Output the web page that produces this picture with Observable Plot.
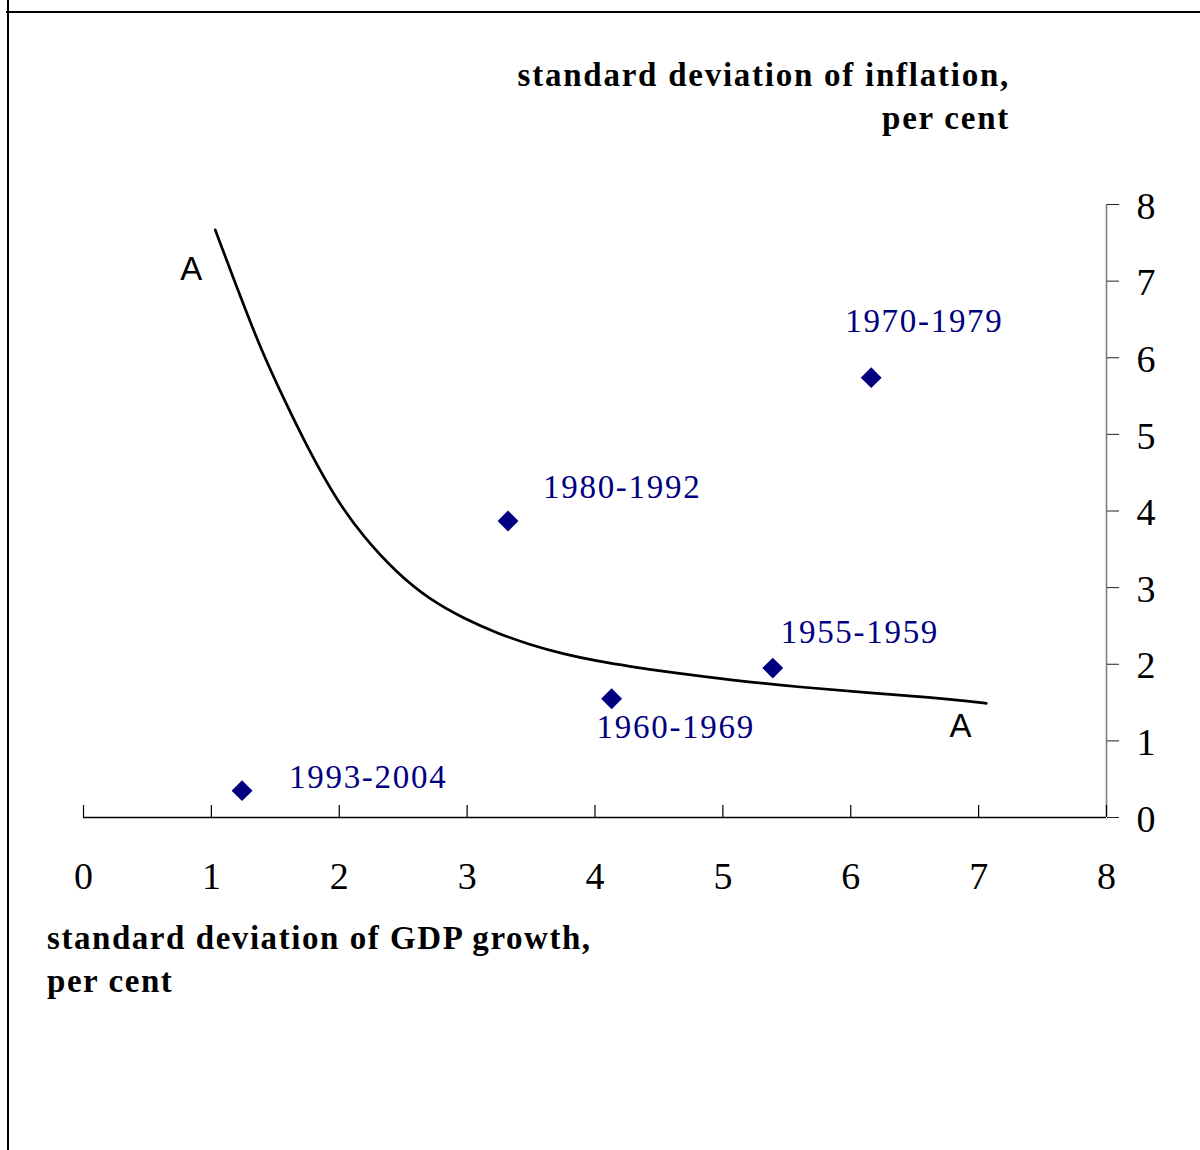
<!DOCTYPE html>
<html>
<head>
<meta charset="utf-8">
<script src="https://cdn.jsdelivr.net/npm/d3@7"></script>
<script src="https://cdn.jsdelivr.net/npm/@observablehq/plot@0.6"></script>
<style>
  html, body { margin: 0; padding: 0; background: #fff; overflow: hidden; }
  #wrap { position: relative; width: 1200px; height: 1150px; overflow: hidden; background: #fff; }
  #chart { position: absolute; left: 0; top: 0; }
  .frame-top { position: absolute; left: 6px; top: 11px; width: 1194px; height: 2px; background: #000; }
  .frame-left { position: absolute; left: 7px; top: 0; width: 2px; height: 1150px; background: #000; }
  .title { position: absolute; font-family: "Liberation Serif", "Times New Roman", serif; font-weight: bold;
           font-size: 33px; line-height: 43px; color: #000; white-space: nowrap; }
  #ytitle { right: 190px; top: 54px; text-align: right; letter-spacing: 1.75px; }
  #xtitle { left: 47px; top: 917px; text-align: left; letter-spacing: 1.55px; }
</style>
</head>
<body>
<div id="wrap">
  <div id="chart"></div>
  <div class="frame-top"></div>
  <div class="frame-left"></div>
  <div class="title" id="ytitle">standard deviation of inflation,<br>per cent</div>
  <div class="title" id="xtitle">standard deviation of GDP growth,<br>per cent</div>
</div>
<script>
// ---- data ----
const periods = ["1955-1959", "1960-1969", "1970-1979", "1980-1992", "1993-2004"];
const gdpSD   = [5.39, 4.13, 6.16, 3.32, 1.24];   // standard deviation of GDP growth, per cent
const inflSD  = [1.95, 1.55, 5.74, 3.87, 0.35];   // standard deviation of inflation, per cent

// curve A-A
const curveGdp  = [1.03, 1.235, 1.39, 1.57, 1.76, 1.98, 2.19, 2.45, 2.71, 2.97, 3.24, 3.50, 3.76, 4.02, 4.28, 4.56, 5.08, 5.61, 6.13, 6.65, 6.91, 7.06];
const curveInfl = [7.67, 6.76, 6.10, 5.45, 4.80, 4.14, 3.66, 3.19, 2.84, 2.60, 2.40, 2.25, 2.13, 2.04, 1.97, 1.90, 1.79, 1.70, 1.63, 1.565, 1.52, 1.49];
const curveLabel = "A";

const xTicks = [0, 1, 2, 3, 4, 5, 6, 7, 8];
const yTicks = [0, 1, 2, 3, 4, 5, 6, 7, 8];

// ---- build ----
const points = periods.map((p, i) => ({period: p, gdp: gdpSD[i], infl: inflSD[i]}));
const curve = curveGdp.map((g, i) => ({gdp: g, infl: curveInfl[i]}));

// label placement (pixel offsets from each point)
const labelOffset = {
  "1955-1959": [8, -36],
  "1960-1969": [-15, 29],
  "1970-1979": [-26, -56],
  "1980-1992": [35, -34],
  "1993-2004": [47, -13]
};

const serif = "Liberation Serif, Times New Roman, serif";
const sans = "Liberation Sans, Arial, sans-serif";
const navy = "#000080";

const labelMarks = points.map(d => Plot.text([d], {
  x: "gdp", y: "infl", text: "period",
  dx: labelOffset[d.period][0], dy: labelOffset[d.period][1],
  textAnchor: "start", lineAnchor: "middle",
  fill: navy, fontSize: 33, fontFamily: serif
}));

const chart = Plot.plot({
  width: 1200,
  height: 1150,
  marginLeft: 83,
  marginRight: 94,
  marginTop: 204,
  marginBottom: 333,
  x: {domain: [0, 8]},
  y: {domain: [0, 8]},
  marks: [
    // axes lines
    Plot.ruleY([0], {x1: 0, x2: 8, stroke: "black", strokeWidth: 1.3}),
    Plot.ruleX([8], {y1: 0, y2: 8, stroke: "#808080", strokeWidth: 1.6}),
    // x ticks pointing up
    Plot.ruleX(xTicks, {x: d => d, y1: () => 0, y2: () => 0, insetBottom: 12, stroke: "black", strokeWidth: 1.2}),
    // x tick labels
    Plot.axisX(xTicks, {anchor: "bottom", tickSize: 0, tickPadding: 45, fontSize: 38, fontFamily: serif, label: null, tickFormat: d => String(d)}),
    // y ticks (right)
    Plot.axisY(yTicks, {anchor: "right", tickSize: 12, fill: "none", stroke: "#222", label: null}),
    // y tick labels
    Plot.axisY(yTicks, {anchor: "right", tickSize: 12, tickPadding: 18, stroke: "none", dy: 2, fontSize: 38, fontFamily: serif, label: null, tickFormat: d => String(d)}),
    // curve A-A
    Plot.line(curve, {x: "gdp", y: "infl", curve: "basis", stroke: "black", strokeWidth: 2.7}),
    Plot.text([curve[0]], {x: "gdp", y: "infl", text: () => curveLabel, dx: -23, dy: 40, fontSize: 33, fontFamily: sans, fill: "black", lineAnchor: "middle"}),
    Plot.text([curve[curve.length - 1]], {x: "gdp", y: "infl", text: () => curveLabel, dx: -25, dy: 23, fontSize: 33, fontFamily: sans, fill: "black", lineAnchor: "middle"}),
    // points
    Plot.dot(points, {x: "gdp", y: "infl", symbol: "diamond2", r: 9.4, fill: navy, stroke: "none"}),
    ...labelMarks
  ]
});

document.getElementById("chart").appendChild(chart);
d3.select(chart).selectAll('g[aria-label="text"] text').style("letter-spacing", "1.7px");
</script>
</body>
</html>
